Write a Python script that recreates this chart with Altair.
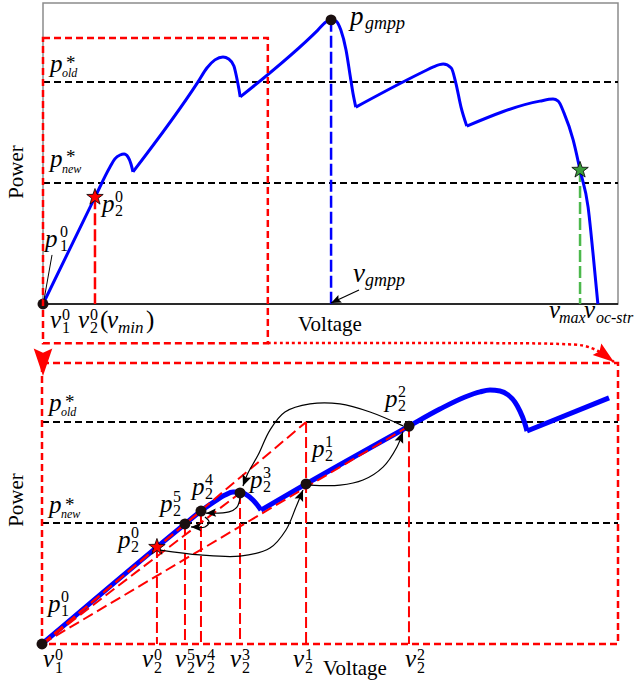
import math
import altair as alt
import pandas as pd

# ============================ DATA ============================
# Top panel: full P-V characteristic (schematic units, voltage 0-100, power 0-100)
TOP_V = [0, 9.04, 11.65, 12.5, 13.4, 14.1, 14.8, 15.3, 15.65,
         26.96, 28.5, 29.9, 31.3, 32.3, 33.2, 33.7, 34.1, 34.3,
         47.8, 49.2, 50.1, 50.96, 51.8, 52.7, 53.4, 53.9, 54.4,
         62.6, 66.4, 67.8, 69.6, 71.0, 71.8, 72.7, 73.7,
         86.4, 88.7, 89.6, 90.6, 92.2, 93.4, 94.8, 95.65, 96.5]
TOP_P = [0, 35.5, 45.5, 48.2, 49.5, 49.8, 48.8, 46.5, 43.9,
         73.8, 78.4, 81.1, 82.1, 81.4, 79.1, 75.1, 71.1, 68.8,
         91.0, 93.7, 94.4, 94.0, 91.0, 84.4, 76.1, 70.1, 65.4,
         73.75, 77.4, 78.7, 79.7, 78.4, 73.4, 65.4, 59.1,
         67.4, 68.1, 67.4, 63.5, 54.5, 44.5, 32.2, 16.9, 0]
P_OLD = 73.75
P_NEW = 40.2
TOP_STAR = [9.04, 35.5]      # p2^0 (v_min)
TOP_GMPP = [50.1, 94.4]
TOP_GREEN = [93.4, 44.5]     # v_max
V_OC = 96.5
ZOOM_V = [0.0, 39.1]         # zoomed window shown in the lower panel
ZOOM_P = [-13.0, 88.4]
LINK_V = [39.13, 70.78, 89.91, 94.26, 96.52, 97.91, 99.3]
LINK_P = [-12.96, -12.96, -13.29, -13.95, -15.61, -17.28, -19.27]
DOWN_TIP = [0.0, -23.9]
VG_ARROW_V = [54.96, 50.1]
VG_ARROW_P = [4.65, 0.33]
P1_POINTER_V = [1.57, 0.17]
P1_POINTER_P = [16.3, 1.33]

# Bottom panel: zoomed curve (voltage 0-45, power 0-93.4)
BOT_V = [0, 8.98, 11.17, 12.42, 13.52, 14.3, 14.92, 15.47, 16.02, 16.48, 16.88, 17.11,
         20.63, 28.67, 31.09, 33.05, 34.22, 35.0, 35.78, 36.41, 36.95, 37.34, 37.66, 37.89, 44.3]
BOT_P = [0, 32.2, 39.9, 44.2, 47.5, 49.5, 50.5, 50.5, 49.5, 47.9, 45.9, 44.5,
         53.2, 72.4, 78.1, 82.1, 83.8, 84.4, 84.1, 82.8, 80.4, 77.4, 74.1, 70.8, 81.8]
IT_ID = ["0", "5", "4", "3", "1", "2"]
IT_V = [8.98, 11.17, 12.42, 15.47, 20.63, 28.67]
IT_P = [32.2, 39.9, 44.2, 50.2, 53.2, 72.4]
BOX_B_V = [0.0, 45.0]
BOX_B_P = [0.0, 93.4]
ARROW_A_V = [9.22, 12.34, 15.47, 17.81, 19.06, 19.84, 20.39]
ARROW_A_P = [31.2, 29.6, 29.2, 31.9, 37.9, 45.5, 51.2]
ARROW_B_V = [20.94, 23.28, 25.08, 26.64, 27.73, 28.2]
ARROW_B_P = [52.8, 52.8, 54.5, 58.8, 65.5, 70.5]
ARROW_C_V = [28.2, 25.63, 23.28, 20.94, 18.98, 17.81, 16.88, 16.09, 15.7]
ARROW_C_P = [72.5, 77.1, 79.8, 79.8, 77.1, 71.1, 62.8, 56.8, 52.5]
ARROW_D_V = [15.47, 15.23, 14.61, 12.81]
ARROW_D_P = [48.5, 45.5, 43.9, 43.5]
ARROW_E_V = [12.73, 13.05, 12.73, 11.64]
ARROW_E_P = [42.2, 40.6, 38.9, 38.9]

# ============================ LAYOUT ============================
W, H = 636, 685
SERIF = "Liberation Serif, Times New Roman, Times, serif"
STAR = ("M0,-1L0.235,-0.324L0.951,-0.309L0.38,0.124L0.588,0.809L0,0.4"
        "L-0.588,0.809L-0.38,0.124L-0.951,-0.309L-0.235,-0.324Z")
HEAD = "M0,0L-0.42,1L0,0.82L0.42,1Z"
BIG_HEAD = "M0,0L-0.34,1L0,0.85L0.34,1Z"


def frame(x0, x1, y0, y1, vmax, pmax):
    sx = (x1 - x0) / vmax
    sy = (y0 - y1) / pmax
    return {"sx": sx, "sy": sy,
            "xdom": [-x0 / sx, (W - x0) / sx],
            "ydom": [-(H - y0) / sy, y0 / sy]}


TF = frame(43, 618, 304, 3, 100.0, 100.0)
BF = frame(42, 618, 644, 363, 45.0, 93.4)


def X(fr, f="v"):
    return alt.X(f + ":Q", scale=alt.Scale(domain=fr["xdom"], nice=False, zero=False), axis=None)


def Y(fr, f="p"):
    return alt.Y(f + ":Q", scale=alt.Scale(domain=fr["ydom"], nice=False, zero=False), axis=None)


def path(fr, vs, ps, color, width, dash=None, interp="linear", group=None, order=None):
    df = pd.DataFrame({"v": vs, "p": ps,
                       "i": order if order is not None else list(range(len(vs))),
                       "g": group if group is not None else [0] * len(vs)})
    kw = dict(color=color, strokeWidth=width, interpolate=interp, strokeCap="butt",
              strokeJoin="round")
    if dash:
        kw["strokeDash"] = dash
    return alt.Chart(df).mark_line(**kw).encode(
        x=X(fr), y=Y(fr), order=alt.Order("i:Q"), detail="g:N")


def pv_curve(fr, vs, ps, color, width):
    """Smooth each branch of the P-V curve, keeping the sharp corners at the dips."""
    gv, gp, gg, gi = [], [], [], []
    g, i = 0, 0
    for k in range(len(vs)):
        gv.append(vs[k]); gp.append(ps[k]); gg.append(g); gi.append(i)
        i += 1
        if 0 < k < len(vs) - 1 and ps[k] < ps[k - 1] and ps[k] < ps[k + 1]:
            g += 1
            i = 0
            gv.append(vs[k]); gp.append(ps[k]); gg.append(g); gi.append(i)
            i += 1
    return path(fr, gv, gp, color, width, interp="monotone", group=gg, order=gi)


def rect(fr, vs, ps, color, width, dash=None):
    df = pd.DataFrame({"v": [vs[0]], "v2": [vs[1]], "p": [ps[0]], "p2": [ps[1]]})
    kw = dict(fillOpacity=0, stroke=color, strokeWidth=width)
    if dash:
        kw["strokeDash"] = dash
    return alt.Chart(df).mark_rect(**kw).encode(x=X(fr), x2="v2:Q", y=Y(fr), y2="p2:Q")


def marks(fr, vs, ps, shape, size, fill, stroke=None, sw=0.0, angles=None):
    df = pd.DataFrame({"v": vs, "p": ps, "a": angles if angles else [0.0] * len(vs)})
    kw = dict(shape=shape, size=size, filled=True, fill=fill, opacity=1)
    if stroke:
        kw.update(stroke=stroke, strokeWidth=sw)
    return alt.Chart(df).mark_point(**kw).encode(
        x=X(fr), y=Y(fr), angle=alt.Angle("a:Q", scale=None))


def heading(fr, v0, p0, v1, p1):
    dx = (v1 - v0) * fr["sx"]
    dy = -(p1 - p0) * fr["sy"]
    return (math.degrees(math.atan2(dx, -dy)) + 360.0) % 360.0


def arrow(fr, vs, ps, color="black", width=1.2, head=HEAD, head_size=484, dash=None,
          interp="catmull-rom"):
    a = heading(fr, vs[-2], ps[-2], vs[-1], ps[-1])
    return [path(fr, vs, ps, color, width, dash, interp),
            marks(fr, [vs[-1]], [ps[-1]], head, head_size, color, angles=[a])]


def label(fr, v, p, s, dx, dy, size=25, italic=True):
    df = pd.DataFrame({"v": [v], "p": [p], "t": [s]})
    return alt.Chart(df).mark_text(
        font=SERIF, fontSize=size, fontStyle="italic" if italic else "normal",
        align="left", baseline="alphabetic", dx=dx, dy=dy, color="black"
    ).encode(x=X(fr), y=Y(fr), text="t:N")


def sym(fr, v, p, base, dx, dy, sup=None, sub=None, gap=13, sup_dy=-10, sub_dy=4):
    out = [label(fr, v, p, base, dx, dy, 25)]
    if sup is not None:
        out.append(label(fr, v, p, sup, dx + gap, dy + sup_dy, 16, italic=False))
    if sub is not None:
        out.append(label(fr, v, p, sub, dx + gap, dy + sub_dy, 16, italic=False))
    return out


def pstar(fr, level, name, dy_p, dy_star, dy_sub):
    return [label(fr, 0, level, "p", 7, dy_p, 25),
            label(fr, 0, level, "*", 23, dy_star, 19, italic=False),
            label(fr, 0, level, name, 19, dy_sub, 12)]


def free_text(s, x, y, size=21, angle=None, baseline="alphabetic"):
    df = pd.DataFrame({"t": [s]})
    kw = dict(font=SERIF, fontSize=size, align="center", baseline=baseline, color="black")
    if angle is not None:
        kw["angle"] = angle
    return alt.Chart(df).mark_text(**kw).encode(x=alt.value(x), y=alt.value(y), text="t:N")


# ============================ TOP PANEL ============================
top = []
top.append(rect(TF, [0, 100], [0, 100], "#8c8c8c", 1.5))
top.append(path(TF, [0, 100], [0, 0], "black", 1.5))
top.append(path(TF, [0, 100, 0, 100], [P_OLD, P_OLD, P_NEW, P_NEW], "black", 2, [7, 4],
                group=[0, 0, 1, 1]))
top.append(path(TF, [TOP_STAR[0]] * 2, [TOP_STAR[1], 0], "red", 2.5, [12, 4]))
top.append(path(TF, [TOP_GMPP[0]] * 2, [TOP_GMPP[1], 0], "blue", 2.5, [12, 4]))
top.append(path(TF, [TOP_GREEN[0]] * 2, [TOP_GREEN[1], 0], "#4cb84c", 2.5, [12, 4]))
top.append(pv_curve(TF, TOP_V, TOP_P, "blue", 3))
top.append(marks(TF, [0, TOP_GMPP[0]], [0, TOP_GMPP[1]], "circle", 120, "#1a0f0f"))
top.append(rect(TF, ZOOM_V, ZOOM_P, "red", 2.5, [7, 4]))
top += arrow(TF, LINK_V, LINK_P, color="red", width=2.5, head=BIG_HEAD, head_size=1800,
             dash=[3, 3])
top.append(marks(TF, [DOWN_TIP[0]], [DOWN_TIP[1]], BIG_HEAD, 3000, "red", angles=[180.0]))
top.append(marks(TF, [TOP_STAR[0]], [TOP_STAR[1]], STAR, 300, "red", "black", 0.8))
top.append(marks(TF, [TOP_GREEN[0]], [TOP_GREEN[1]], STAR, 300, "#3c9c3c", "black", 0.8))
top.append(path(TF, P1_POINTER_V, P1_POINTER_P, "black", 1))
top += arrow(TF, VG_ARROW_V, VG_ARROW_P, interp="linear", head_size=400)
# labels
top += pstar(TF, P_OLD, "old", -10, -13, -5)
top += pstar(TF, P_NEW, "new", -16, -20, -10)
top += sym(TF, 0, 0, "p", 2, -57, "0", "1", gap=15)
top += sym(TF, TOP_STAR[0], TOP_STAR[1], "p", 7, 15, "0", "2")
top.append(label(TF, TOP_GMPP[0], TOP_GMPP[1], "p", 19, 5, 27))
top.append(label(TF, TOP_GMPP[0], TOP_GMPP[1], "gmpp", 34, 9, 18))
top.append(label(TF, TOP_GMPP[0], 0, "v", 22, -22, 27))
top.append(label(TF, TOP_GMPP[0], 0, "gmpp", 34, -18, 18))
top += sym(TF, 0, 0, "v", 7, 24, "0", "1", gap=12, sup_dy=-8, sub_dy=5)
top += sym(TF, TOP_STAR[0], 0, "v", -17, 24, "0", "2", gap=12, sup_dy=-8, sub_dy=5)
top.append(label(TF, TOP_STAR[0], 0, "(", 5, 24, 25, italic=False))
top.append(label(TF, TOP_STAR[0], 0, "v", 12, 24, 25))
top.append(label(TF, TOP_STAR[0], 0, "min", 23, 29, 17))
top.append(label(TF, TOP_STAR[0], 0, ")", 51, 24, 25, italic=False))
top.append(label(TF, TOP_GREEN[0], 0, "v", -31, 14, 25))
top.append(label(TF, TOP_GREEN[0], 0, "max", -21, 19, 16))
top.append(label(TF, V_OC, 0, "v", -14, 14, 25))
top.append(label(TF, V_OC, 0, "oc-str", -2, 19, 16))
top.append(free_text("Voltage", 330, 331, 21))
top.append(free_text("Power", 17, 172, 21, angle=270, baseline="middle"))

# ============================ BOTTOM PANEL ============================
bot = []
bot.append(path(BF, [0, 45, 0, 45], [P_OLD, P_OLD, P_NEW, P_NEW], "black", 2, [7, 4],
                group=[0, 0, 1, 1]))
vert_v, vert_p, vert_g = [], [], []
for k, (vv, pp) in enumerate(zip(IT_V, IT_P)):
    top_p = P_OLD if IT_ID[k] == "1" else pp
    vert_v += [vv, vv]
    vert_p += [top_p, 0]
    vert_g += [k, k]
bot.append(path(BF, vert_v, vert_p, "red", 2, [11, 4], group=vert_g))
bot.append(pv_curve(BF, BOT_V, BOT_P, "blue", 5))
diag_targets = [(IT_V[4], P_OLD), (IT_V[3], IT_P[3]), (IT_V[5], IT_P[5]), (IT_V[2], IT_P[2])]
dv, dp, dg = [], [], []
for k, (vv, pp) in enumerate(diag_targets):
    dv += [0, vv]
    dp += [0, pp]
    dg += [k, k]
bot.append(path(BF, dv, dp, "red", 2, [11, 5], group=dg))
bot.append(rect(BF, BOX_B_V, BOX_B_P, "red", 2.5, [7, 4]))
bot.append(marks(BF, [0] + IT_V[1:], [0] + IT_P[1:], "circle", 120, "#1a0f0f"))
bot.append(marks(BF, [IT_V[0]], [IT_P[0]], STAR, 300, "red", "black", 0.8))
bot += arrow(BF, ARROW_A_V, ARROW_A_P)
bot += arrow(BF, ARROW_B_V, ARROW_B_P)
bot += arrow(BF, ARROW_C_V, ARROW_C_P)
bot += arrow(BF, ARROW_D_V, ARROW_D_P, head_size=400)
bot += arrow(BF, ARROW_E_V, ARROW_E_P, head_size=400)
# labels
bot += pstar(BF, P_OLD, "old", -11, -14, -6)
bot += pstar(BF, P_NEW, "new", -10, -12, -5)
bot += sym(BF, 0, 0, "p", 6, -32, "0", "1")
p_offsets = {"0": (-39, 1), "5": (-25, -12), "4": (-9, -16), "3": (10, -5),
             "1": (6, -27), "2": (-24, -19)}
v_offsets = {"0": -15, "5": -10, "4": -6, "3": -10, "1": -13, "2": -4}
for k, name in enumerate(IT_ID):
    dx, dy = p_offsets[name]
    bot += sym(BF, IT_V[k], IT_P[k], "p", dx, dy, name, "2")
    bot += sym(BF, IT_V[k], 0, "v", v_offsets[name], 23, name, "2", gap=12, sup_dy=-7, sub_dy=6)
bot += sym(BF, 0, 0, "v", 1, 23, "0", "1", gap=12, sup_dy=-7, sub_dy=6)
bot.append(free_text("Voltage", 355, 675, 21))
bot.append(free_text("Power", 17, 500, 21, angle=270, baseline="middle"))

chart = alt.layer(alt.layer(*top), alt.layer(*bot)).resolve_scale(
    x="independent", y="independent"
).properties(
    width=W, height=H, padding=0, background="white",
    autosize=alt.AutoSizeParams(type="none")
).configure_view(stroke=None)

chart.save("out.html", embed_options={"renderer": "svg", "actions": False})
